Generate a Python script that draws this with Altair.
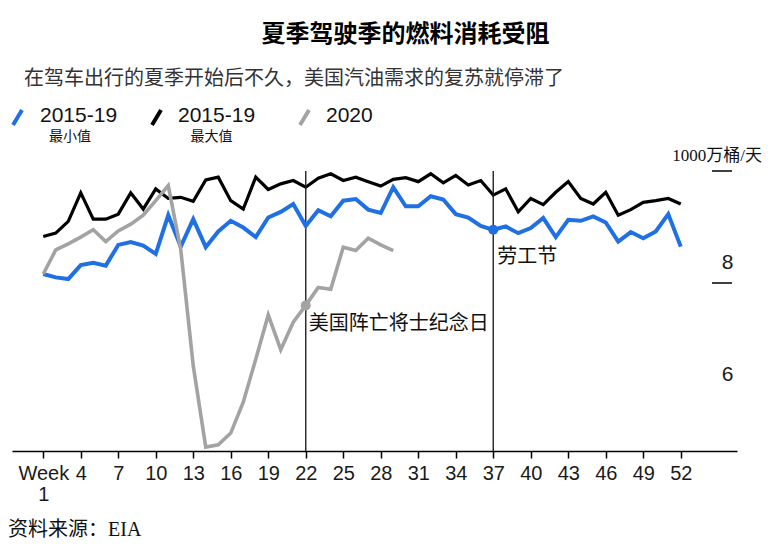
import altair as alt
import pandas as pd

# ---------------- data ----------------
weeks = list(range(1, 53))
min_2015_19 = [8.16, 8.10, 8.07, 8.32, 8.36, 8.31, 8.68, 8.73, 8.67, 8.52,
               9.21, 8.65, 9.14, 8.64, 8.92, 9.11, 8.99, 8.82, 9.17, 9.27,
               9.41, 9.02, 9.30, 9.19, 9.47, 9.50, 9.31, 9.25, 9.71, 9.37,
               9.37, 9.55, 9.49, 9.23, 9.17, 9.02, 8.95, 9.01, 8.89, 8.98,
               9.16, 8.82, 9.13, 9.11, 9.19, 9.08, 8.74, 8.91, 8.80, 8.92,
               9.23, 8.65]
max_2015_19 = [8.83, 8.89, 9.10, 9.61, 9.14, 9.14, 9.23, 9.61, 9.32, 9.68,
               9.51, 9.53, 9.46, 9.84, 9.89, 9.47, 9.32, 9.89, 9.67, 9.77,
               9.83, 9.71, 9.87, 9.95, 9.83, 9.89, 9.81, 9.73, 9.85, 9.88,
               9.81, 9.95, 9.79, 9.92, 9.75, 9.83, 9.57, 9.68, 9.27, 9.51,
               9.40, 9.62, 9.81, 9.51, 9.41, 9.62, 9.21, 9.31, 9.44, 9.47,
               9.51, 9.41]
weeks_2020 = list(range(1, 30))
values_2020 = [8.16, 8.59, 8.70, 8.82, 8.95, 8.74, 8.93, 9.05, 9.21, 9.47,
               9.74, 8.60, 6.52, 5.07, 5.11, 5.32, 5.87, 6.64, 7.43, 6.81,
               7.30, 7.60, 7.92, 7.89, 8.64, 8.58, 8.80, 8.68, 8.58]

x_tick_values = list(range(1, 53, 3))
y_label_values = [6, 8]
y_tick_values = [8, 10]
unit_label = "1000万桶/天"
event_weeks = [22, 37]
memorial_week = 22
labor_week = 37

title_text = "夏季驾驶季的燃料消耗受阻"
subtitle_text = "在驾车出行的夏季开始后不久，美国汽油需求的复苏就停滞了"
source_text = "资料来源：EIA"

# ---------------- tables ----------------
df = pd.DataFrame({
    "week": weeks + weeks + weeks_2020,
    "value": min_2015_19 + max_2015_19 + values_2020,
    "series": ["min"] * len(weeks) + ["max"] * len(weeks) + ["2020"] * len(weeks_2020),
})
ylab = pd.DataFrame({"v": y_label_values, "label": [str(v) for v in y_label_values]})
ytk = pd.DataFrame({"v": y_tick_values})
ev = pd.DataFrame({"week": event_weeks})
one = pd.DataFrame({"k": [0]})

BLUE = "#1f6fe5"
BLACK = "#000000"
GRAY = "#a3a3a3"
NARROW = "Liberation Sans Narrow, Arial Narrow, Liberation Sans, sans-serif"
CJK = "Noto Sans CJK SC"
SERIF = "Liberation Serif, Noto Sans CJK SC"

xs = alt.Scale(domain=[-1.5, 56.5], nice=False, zero=False)
ys = alt.Scale(domain=[5, 10.5], nice=False, zero=False)

x_axis = alt.Axis(
    values=x_tick_values, title=None, grid=False,
    labelExpr="datum.value == 1 ? ['Week', '1'] : datum.label",
    labelFont=NARROW, labelFontSize=20, labelColor="#1a1a1a",
    labelPadding=5, labelLineHeight=21, labelFlush=False, labelOverlap=False,
    tickSize=7, tickWidth=1.5, tickColor="#000",
    domainColor="#000", domainWidth=1.6,
)


def X(field="week:Q"):
    return alt.X(field, scale=xs, axis=x_axis, title=None)


def XD(v):
    return alt.XDatum(v, scale=xs, axis=x_axis)


def Y(field="value:Q"):
    return alt.Y(field, scale=ys, axis=None)


base = alt.Chart(df)

line_max = base.transform_filter("datum.series == 'max'").mark_line(
    color=BLACK, strokeWidth=3.2).encode(x=X(), y=Y())
line_min = base.transform_filter("datum.series == 'min'").mark_line(
    color=BLUE, strokeWidth=4).encode(x=X(), y=Y())
line_2020 = base.transform_filter("datum.series == '2020'").mark_line(
    color=GRAY, strokeWidth=3.6).encode(x=X(), y=Y())

vrules = alt.Chart(ev).mark_rule(color="#222", strokeWidth=1.4).encode(
    x=X(), y=alt.YDatum(5, scale=ys, axis=None), y2=alt.Y2Datum(10))

dot_mem = base.transform_filter(
    f"datum.series == '2020' && datum.week == {memorial_week}").mark_circle(
    color=GRAY, size=100, opacity=1).encode(x=X(), y=Y())
dot_lab = base.transform_filter(
    f"datum.series == 'min' && datum.week == {labor_week}").mark_circle(
    color=BLUE, size=100, opacity=1).encode(x=X(), y=Y())

txt_mem = base.transform_filter(
    f"datum.series == '2020' && datum.week == {memorial_week}").mark_text(
    text="美国阵亡将士纪念日", font=SERIF, fontSize=20, align="left",
    baseline="middle", dx=3, dy=19, color="#111").encode(x=X(), y=Y())
txt_lab = base.transform_filter(
    f"datum.series == 'min' && datum.week == {labor_week}").mark_text(
    text="劳工节", font=SERIF, fontSize=20, align="left",
    baseline="middle", dx=4, dy=27, color="#111").encode(x=X(), y=Y())

# right-side value labels and ticks
ylabels = alt.Chart(ylab).mark_text(
    font=NARROW, fontSize=21, align="center", baseline="middle", dy=-20,
    color="#1a1a1a").encode(x=XD(55.75), y=Y("v:Q"), text="label:N")
yticks = alt.Chart(ytk).mark_rule(color="#000", strokeWidth=1.5).encode(
    x=XD(54.5), x2=alt.X2Datum(56.1), y=Y("v:Q"))
yunit = alt.Chart(one).mark_text(
    text=unit_label, font=SERIF, fontSize=17, align="right", baseline="middle",
    dy=-15, color="#111").encode(
    x=XD(58.5), y=alt.YDatum(10, scale=ys, axis=None))


# titles, legend, source (placed in pixels around the plot area)
def label(text, x, y, font, size, align="left", color="#111", weight="normal"):
    return alt.Chart(one).mark_text(
        text=text, font=font, fontSize=size, align=align, baseline="middle",
        color=color, fontWeight=weight).encode(x=alt.value(x), y=alt.value(y))


def slash(x, color):
    return alt.Chart(one).mark_rule(color=color, strokeWidth=4).encode(
        x=alt.value(x), x2=alt.value(x + 9), y=alt.value(-18), y2=alt.value(-33))


title = label(title_text, 393.5, -108, CJK, 24, align="center", color="#000", weight="bold")
subtitle = label(subtitle_text, 12, -64, CJK, 20, color="#333")
leg = [
    slash(1, BLUE), label("2015-19", 28, -27, NARROW, 21, color="#111"),
    label("最小值", 58, -6, CJK, 14, align="center"),
    slash(140, BLACK), label("2015-19", 166, -27, NARROW, 21, color="#111"),
    label("最大值", 199.5, -6, CJK, 14, align="center"),
    slash(288, GRAY), label("2020", 314, -27, NARROW, 21, color="#111"),
]
source = label(source_text, -4, 387, SERIF, 20, color="#111")

chart = alt.layer(
    line_max, vrules, line_min, line_2020, dot_mem, dot_lab, txt_mem, txt_lab,
    ylabels, yticks, yunit, title, subtitle, *leg, source,
).properties(
    width=725, height=308,
    padding={"left": 4, "top": 135, "right": 26, "bottom": 89},
    autosize=alt.AutoSizeParams(type="none"),
    background="white",
).configure_view(stroke=None)

chart.save("out.html", embed_options={"renderer": "svg", "actions": False})
